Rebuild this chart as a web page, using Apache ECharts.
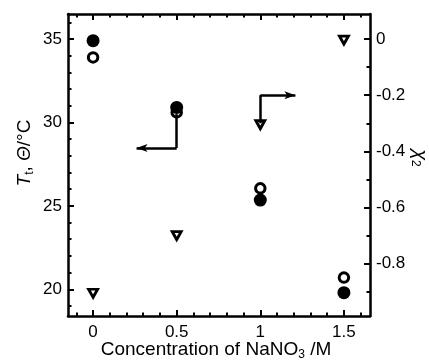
<!DOCTYPE html>
<html lang="en">
<head>
<meta charset="UTF-8">
<title>Tt, Θ and χ2 vs NaNO3</title>
<script src="https://cdn.jsdelivr.net/npm/echarts@6/dist/echarts.min.js"></script>
<style>
    html, body { margin: 0; padding: 0; background: #fff; }
    #main { width: 429px; height: 363px; }
</style>
</head>
<body>
<div id="main"></div>
<script>
// data
var conc = [0, 0.5, 1, 1.5];
var ttFilled = [34.9, 30.9, 25.35, 19.8];
var thetaOpen = [33.9, 30.6, 26.05, 20.7];
var chi2 = [-0.905, -0.70, -0.305, -0.004];

// ticks
var xLabels = [0, 0.5, 1, 1.5];
var xMinor = [-0.1, 0, 0.1, 0.2, 0.3, 0.4, 0.5, 0.6, 0.7, 0.8, 0.9, 1, 1.1, 1.2, 1.3, 1.4, 1.5, 1.6];
var tLabels = [20, 25, 30, 35];
var tMinor = [19, 20, 21, 22, 23, 24, 25, 26, 27, 28, 29, 30, 31, 32, 33, 34, 35, 36];
var chiLabels = [0, -0.2, -0.4, -0.6, -0.8];
var chiMinor = [0, -0.1, -0.2, -0.3, -0.4, -0.5, -0.6, -0.7, -0.8, -0.9];

// arrow paths (data coords)
var arrowLeft = [[0.5, 30.5], [0.5, 28.47], [0.26, 28.47]];
var arrowRight = [[1.0, -0.3], [1.0, -0.2], [1.21, -0.2]];

var FONT = '"Liberation Sans", Arial, Helvetica, sans-serif';
var xRange = {min: -0.15, max: 1.656};
var tRange = {min: 18.4, max: 36.5};
var chiRange = {min: -0.986, max: 0.089};

function axis(pos, range, opts) {
    return {
        type: 'value',
        position: pos,
        min: range.min,
        max: range.max,
        splitLine: {show: false},
        axisLine: {show: opts.line, onZero: false, lineStyle: {color: '#000', width: 2.5}},
        axisTick: {show: true, inside: true, length: opts.tickLen, customValues: opts.ticks,
            lineStyle: {color: '#000', width: 2}},
        axisLabel: {show: !!opts.labels, customValues: opts.labels, color: '#000',
            fontSize: 17, fontFamily: FONT, margin: opts.margin || 6}
    };
}

function pairs(path) {
    var out = [];
    for (var i = 0; i < path.length - 1; i++) {
        out.push([
            {coord: path[i], symbol: 'none'},
            {coord: path[i + 1], symbol: i === path.length - 2 ? 'arrow' : 'none', symbolSize: [6, 11]}
        ]);
    }
    return out;
}

var markStyle = {
    silent: true,
    animation: false,
    label: {show: false},
    lineStyle: {color: '#000', width: 2.5, type: 'solid', opacity: 1},
    itemStyle: {color: '#000'},
    emphasis: {disabled: true}
};

var chart = echarts.init(document.getElementById('main'));
chart.setOption({
    animation: false,
    grid: {left: 68, right: 59, top: 14, bottom: 47},
    xAxis: [
        axis('bottom', xRange, {line: true, tickLen: 6, ticks: xLabels, labels: xLabels, margin: 8}),
        axis('bottom', xRange, {line: false, tickLen: 3.5, ticks: xMinor}),
        axis('top', xRange, {line: true, tickLen: 6, ticks: xLabels}),
        axis('top', xRange, {line: false, tickLen: 3.5, ticks: xMinor})
    ],
    yAxis: [
        axis('left', tRange, {line: true, tickLen: 6, ticks: tLabels, labels: tLabels}),
        axis('right', chiRange, {line: true, tickLen: 6, ticks: chiLabels, labels: chiLabels}),
        axis('left', tRange, {line: false, tickLen: 3.5, ticks: tMinor}),
        axis('right', chiRange, {line: false, tickLen: 3.5, ticks: chiMinor})
    ],
    series: [
        {
            name: 'chi2', type: 'scatter', xAxisIndex: 0, yAxisIndex: 1,
            data: conc.map(function (c, i) { return [c, chi2[i]]; }),
            symbol: 'triangle', symbolRotate: 180, symbolSize: [9, 8],
            itemStyle: {color: '#fff', borderColor: '#000', borderWidth: 2.8, opacity: 1},
            markLine: Object.assign({data: pairs(arrowRight)}, markStyle),
            z: 3
        },
        {
            name: 'Theta', type: 'scatter', xAxisIndex: 0, yAxisIndex: 0,
            data: conc.map(function (c, i) { return [c, thetaOpen[i]]; }),
            symbol: 'circle', symbolSize: 9.5,
            itemStyle: {color: '#fff', borderColor: '#000', borderWidth: 3, opacity: 1},
            z: 4
        },
        {
            name: 'Tt', type: 'scatter', xAxisIndex: 0, yAxisIndex: 0,
            data: conc.map(function (c, i) { return [c, ttFilled[i]]; }),
            symbol: 'circle', symbolSize: 13,
            itemStyle: {color: '#000', opacity: 1},
            markLine: Object.assign({data: pairs(arrowLeft)}, markStyle),
            z: 5
        }
    ],
    graphic: [
        {
            type: 'text', x: 25, y: 153, rotation: Math.PI / 2,
            style: {
                text: '{i|T}{s|t}{n|, }{i|Θ}{n|/°C}',
                align: 'center', verticalAlign: 'middle', fill: '#000', fontFamily: FONT,
                rich: {
                    i: {fontStyle: 'italic', fontSize: 19, fontFamily: FONT},
                    n: {fontSize: 19, fontFamily: FONT},
                    s: {fontSize: 12, fontFamily: FONT, padding: [9, 0, 0, 0]}
                }
            }
        },
        {
            type: 'text', x: 216, y: 350,
            style: {
                text: '{n|Concentration of NaNO}{s|3}{n| /M}',
                align: 'center', verticalAlign: 'middle', fill: '#000', fontFamily: FONT,
                rich: {
                    n: {fontSize: 19, fontFamily: FONT},
                    s: {fontSize: 12, fontFamily: FONT, padding: [9, 0, 0, 0]}
                }
            }
        },
        {
            type: 'text', x: 420, y: 158, rotation: -Math.PI / 2,
            style: {
                text: '{i|χ}{s|2}',
                align: 'center', verticalAlign: 'middle', fill: '#000', fontFamily: FONT,
                rich: {
                    i: {fontStyle: 'italic', fontSize: 20, fontFamily: FONT},
                    s: {fontSize: 12, fontFamily: FONT, padding: [9, 0, 0, 0]}
                }
            }
        }
    ]
});
</script>
</body>
</html>
